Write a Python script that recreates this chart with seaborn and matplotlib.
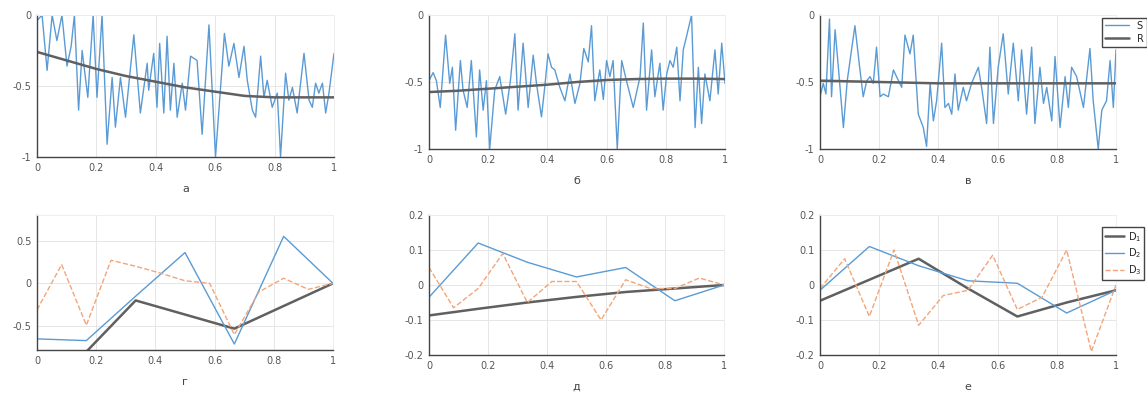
import numpy as np
import seaborn as sns
import matplotlib.pyplot as plt

sns.set_theme(style="whitegrid")
plt.rcParams['font.family'] = ['DejaVu Sans']

# --- верхний ряд: сигнал S и тренд R ---
xa = [0.000, 0.017, 0.034, 0.051, 0.067, 0.084, 0.101, 0.115, 0.126, 0.140, 0.152, 0.171,
      0.189, 0.202, 0.219, 0.236, 0.253, 0.264, 0.281, 0.298, 0.326, 0.348, 0.371, 0.376,
      0.393, 0.404, 0.413, 0.427, 0.438, 0.449, 0.461, 0.472, 0.489, 0.500, 0.517, 0.539,
      0.556, 0.579, 0.601, 0.624, 0.631, 0.646, 0.663, 0.680, 0.697, 0.708, 0.725, 0.736,
      0.753, 0.764, 0.775, 0.792, 0.809, 0.820, 0.837, 0.848, 0.860, 0.876, 0.899, 0.916,
      0.927, 0.938, 0.949, 0.961, 0.972, 0.983, 1.000]
sa = [-0.04, 0.00, -0.39, 0.00, -0.18, 0.00, -0.36, -0.22, 0.00, -0.67, -0.25, -0.58,
      0.00, -0.58, 0.00, -0.91, -0.44, -0.79, -0.44, -0.72, -0.14, -0.69, -0.34, -0.53,
      -0.27, -0.65, -0.20, -0.69, -0.15, -0.67, -0.34, -0.72, -0.48, -0.67, -0.29, -0.32,
      -0.84, -0.07, -1.00, -0.34, -0.13, -0.36, -0.20, -0.44, -0.22, -0.46, -0.67, -0.72,
      -0.29, -0.58, -0.46, -0.65, -0.55, -1.00, -0.41, -0.60, -0.51, -0.69, -0.27, -0.60,
      -0.65, -0.48, -0.55, -0.48, -0.69, -0.55, -0.27]

xb = [0.000, 0.014, 0.025, 0.038, 0.056, 0.070, 0.079, 0.090, 0.106, 0.115, 0.129, 0.143,
      0.160, 0.171, 0.183, 0.194, 0.205, 0.222, 0.239, 0.259, 0.275, 0.290, 0.301, 0.318,
      0.335, 0.352, 0.363, 0.380, 0.391, 0.402, 0.414, 0.425, 0.442, 0.459, 0.476, 0.493,
      0.510, 0.523, 0.538, 0.549, 0.560, 0.577, 0.589, 0.600, 0.611, 0.622, 0.636, 0.651,
      0.667, 0.690, 0.713, 0.724, 0.735, 0.752, 0.763, 0.780, 0.791, 0.803, 0.814, 0.825,
      0.837, 0.848, 0.859, 0.870, 0.887, 0.899, 0.910, 0.921, 0.932, 0.949, 0.966, 0.977,
      0.989, 1.000]
sb = [-0.49, -0.43, -0.49, -0.69, -0.15, -0.51, -0.39, -0.86, -0.34, -0.56, -0.69, -0.34,
      -0.91, -0.41, -0.71, -0.49, -1.00, -0.56, -0.46, -0.74, -0.49, -0.14, -0.71, -0.21,
      -0.69, -0.30, -0.51, -0.76, -0.54, -0.29, -0.39, -0.41, -0.54, -0.64, -0.44, -0.66,
      -0.51, -0.25, -0.35, -0.08, -0.64, -0.41, -0.63, -0.34, -0.46, -0.34, -1.00, -0.34,
      -0.49, -0.69, -0.46, -0.06, -0.71, -0.26, -0.61, -0.36, -0.71, -0.44, -0.34, -0.39,
      -0.24, -0.64, -0.26, -0.16, 0.00, -0.84, -0.39, -0.81, -0.44, -0.64, -0.26, -0.59,
      -0.21, -0.51]

xv = [0.000, 0.011, 0.020, 0.032, 0.039, 0.051, 0.062, 0.079, 0.092, 0.118, 0.135, 0.146,
      0.158, 0.169, 0.180, 0.191, 0.203, 0.214, 0.231, 0.248, 0.265, 0.276, 0.287, 0.304,
      0.315, 0.332, 0.349, 0.360, 0.372, 0.383, 0.394, 0.411, 0.422, 0.434, 0.445, 0.456,
      0.467, 0.484, 0.495, 0.512, 0.535, 0.546, 0.563, 0.574, 0.586, 0.602, 0.619, 0.636,
      0.653, 0.670, 0.681, 0.698, 0.715, 0.726, 0.743, 0.755, 0.766, 0.783, 0.794, 0.811,
      0.828, 0.839, 0.850, 0.867, 0.890, 0.912, 0.923, 0.940, 0.952, 0.968, 0.980, 0.991,
      1.000]
sv = [-0.61, -0.51, -0.59, -0.03, -0.61, -0.11, -0.39, -0.84, -0.49, -0.08, -0.41, -0.61,
      -0.49, -0.46, -0.51, -0.24, -0.61, -0.59, -0.61, -0.41, -0.49, -0.54, -0.15, -0.29,
      -0.15, -0.74, -0.84, -0.98, -0.51, -0.79, -0.64, -0.21, -0.69, -0.66, -0.74, -0.44,
      -0.71, -0.54, -0.64, -0.51, -0.39, -0.54, -0.81, -0.24, -0.81, -0.39, -0.14, -0.59,
      -0.21, -0.64, -0.26, -0.74, -0.24, -0.81, -0.39, -0.66, -0.54, -0.79, -0.31, -0.84,
      -0.46, -0.69, -0.39, -0.46, -0.69, -0.25, -0.64, -1.00, -0.71, -0.64, -0.34, -0.69,
      -0.26]

xr = [0.0, 0.1, 0.2, 0.3, 0.4, 0.5, 0.6, 0.7, 0.8, 0.9, 1.0]
ra = [-0.26, -0.32, -0.38, -0.43, -0.47, -0.51, -0.54, -0.57, -0.58, -0.58, -0.58]
rb = [-0.575, -0.565, -0.55, -0.535, -0.52, -0.50, -0.485, -0.478, -0.475, -0.475, -0.478]
rv = [-0.49, -0.495, -0.50, -0.505, -0.51, -0.51, -0.51, -0.51, -0.51, -0.51, -0.51]

# --- нижний ряд: детали D ---
x6 = [0, 1/6, 2/6, 3/6, 4/6, 5/6, 1]
x12 = [i / 12 for i in range(13)]

d1_g = [-1.40, -0.80, -0.20, -0.365, -0.53, -0.265, 0.0]
d2_g = [-0.65, -0.67, -0.15, 0.36, -0.71, 0.55, 0.0]
d3_g = [-0.31, 0.22, -0.49, 0.27, 0.20, 0.12, 0.03, 0.0, -0.60, -0.10, 0.06, -0.07, 0.0]

d1_d = [-0.087, -0.068, -0.050, -0.034, -0.020, -0.010, 0.0]
d2_d = [-0.035, 0.120, 0.065, 0.023, 0.050, -0.045, 0.0]
d3_d = [0.05, -0.065, -0.01, 0.09, -0.05, 0.01, 0.01, -0.10, 0.015, -0.01, -0.01, 0.02, 0.0]

d1_e = [-0.045, 0.015, 0.075, -0.01, -0.09, -0.05, -0.015]
d2_e = [-0.015, 0.110, 0.055, 0.012, 0.005, -0.080, -0.015]
d3_e = [-0.01, 0.075, -0.09, 0.10, -0.115, -0.03, -0.015, 0.085, -0.07, -0.035, 0.10, -0.19, 0.0]

xticks = [0, 0.2, 0.4, 0.6, 0.8, 1]
xticklabels = ['0', '0.2', '0.4', '0.6', '0.8', '1']
letters = ['а', 'б', 'в', 'г', 'д', 'е']

c_s = '#5a9bd5'
c_r = '#606060'
c_d3 = '#f2a57a'

W, H = 1147, 394
fig = plt.figure(figsize=(W / 100, H / 100), dpi=100)

# [left, right, top, bottom] в пикселях
boxes = [(37, 334, 15, 157), (429, 725, 15, 149), (820, 1116, 15, 149),
         (37, 333, 215, 350), (429, 724, 215, 355), (820, 1116, 215, 355)]
axes = []
for l, r, t, b in boxes:
    axes.append(fig.add_axes([l / W, 1 - b / H, (r - l) / W, (b - t) / H]))

top = [(xa, sa, ra), (xb, sb, rb), (xv, sv, rv)]
for ax, (xs, s, r) in zip(axes[:3], top):
    sns.lineplot(x=xs, y=s, ax=ax, color=c_s, lw=1.0, estimator=None, label='S')
    sns.lineplot(x=xr, y=r, ax=ax, color=c_r, lw=1.8, estimator=None, label='R')
    ax.set_ylim(-1, 0)
    ax.set_yticks([-1, -0.5, 0])
    ax.set_yticklabels(['-1', '-0.5', '0'])

bottom = [(d1_g, d2_g, d3_g), (d1_d, d2_d, d3_d), (d1_e, d2_e, d3_e)]
for ax, (d1, d2, d3) in zip(axes[3:], bottom):
    sns.lineplot(x=x6, y=d1, ax=ax, color=c_r, lw=1.8, estimator=None, label='D$_1$')
    sns.lineplot(x=x6, y=d2, ax=ax, color=c_s, lw=1.0, estimator=None, label='D$_2$')
    sns.lineplot(x=x12, y=d3, ax=ax, color=c_d3, lw=1.0, estimator=None, label='D$_3$',
                 linestyle='--')

axes[3].set_ylim(-0.78, 0.8)
axes[3].set_yticks([-0.5, 0, 0.5])
axes[3].set_yticklabels(['-0.5', '0', '0.5'])
for ax in axes[4:]:
    ax.set_ylim(-0.2, 0.2)
    ax.set_yticks([-0.2, -0.1, 0, 0.1, 0.2])
    ax.set_yticklabels(['-0.2', '-0.1', '0', '0.1', '0.2'])

for ax, letter in zip(axes, letters):
    ax.set_xlim(0, 1)
    ax.set_xticks(xticks)
    ax.set_xticklabels(xticklabels)
    ax.set_xlabel(letter, fontsize=8, color='#444444', labelpad=8)
    ax.tick_params(labelsize=7, colors='#555555', length=0, pad=4)
    ax.grid(True, color='#e6e6e6', lw=0.7)
    ax.set_facecolor('white')
    for side in ['left', 'bottom']:
        ax.spines[side].set_color('#444444')
        ax.spines[side].set_linewidth(1.0)
    for side in ['top', 'right']:
        ax.spines[side].set_color('#eeeeee')
        ax.spines[side].set_linewidth(0.7)
    if ax.get_legend() is not None:
        ax.get_legend().remove()

leg_kw = dict(loc='upper left', bbox_transform=fig.transFigure, fontsize=7,
              frameon=True, fancybox=False, edgecolor='#444444', framealpha=1,
              borderpad=0.3, labelspacing=0.3)
h, lab = axes[2].get_legend_handles_labels()
axes[2].legend(h, lab, bbox_to_anchor=(1097 / W, 1 - 13 / H), handlelength=2.5, **leg_kw)
h, lab = axes[5].get_legend_handles_labels()
axes[5].legend(h, lab, bbox_to_anchor=(1097 / W, 1 - 222 / H), handlelength=2.0,
               handletextpad=0.4, **leg_kw)

plt.savefig('out.png', dpi=100)
